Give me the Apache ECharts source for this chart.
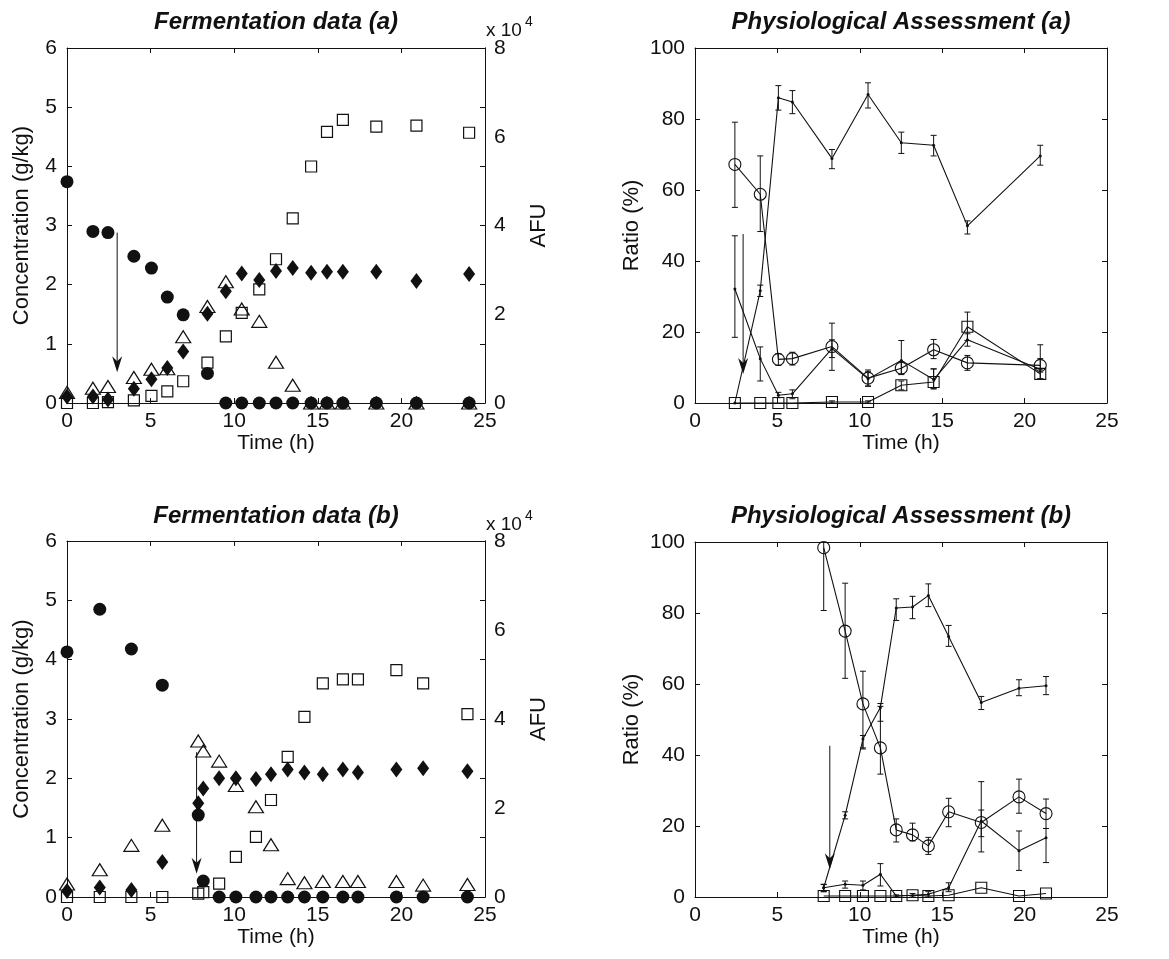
<!DOCTYPE html>
<html>
<head>
<meta charset="utf-8">
<script src="https://cdn.jsdelivr.net/npm/echarts@6/dist/echarts.min.js"></script>
<style>
  html, body { margin: 0; padding: 0; background: #fff; }
  #chart { width: 1169px; height: 959px; }
</style>
</head>
<body>
<div id="chart"></div>
<script type="text/javascript">

// ---- Fermentation data (a)
var timeFa = [0, 1.55, 2.45, 4.0, 5.05, 6.0, 6.95, 8.4, 9.5, 10.45, 11.5, 12.5, 13.5, 14.6, 15.55, 16.5, 18.5, 20.9, 24.05];
var circleFa = [3.74, 2.90, 2.88, 2.48, 2.28, 1.79, 1.49, 0.50, 0, 0, 0, 0, 0, 0, 0, 0, 0, 0, 0];
var diamondFa = [0.11, 0.11, 0.06, 0.24, 0.40, 0.59, 0.87, 1.51, 1.89, 2.19, 2.08, 2.23, 2.28, 2.20, 2.22, 2.22, 2.22, 2.06, 2.18];
var triangleFa = [0.18, 0.25, 0.28, 0.43, 0.57, 0.58, 1.12, 1.63, 2.05, 1.59, 1.38, 0.69, 0.30, 0, 0, 0, 0, 0, 0];
var afuFa = [0, 0, 0.02, 0.06, 0.16, 0.26, 0.49, 0.91, 1.50, 2.03, 2.56, 3.24, 4.16, 5.33, 6.11, 6.38, 6.23, 6.25, 6.09]; // x10^4
var arrowFa = [3.0, 2.88, 0.52];

// ---- Fermentation data (b)
var timeFb = [0, 1.96, 3.85, 5.7, 7.85, 8.15, 9.1, 10.1, 11.3, 12.2, 13.2, 14.2, 15.3, 16.5, 17.4, 19.7, 21.3, 23.95];
var circleFb = [4.13, 4.85, 4.18, 3.57, 1.38, 0.27, 0, 0, 0, 0, 0, 0, 0, 0, 0, 0, 0, 0];
var diamondFb = [0.10, 0.16, 0.12, 0.59, 1.58, 1.83, 2.0, 2.0, 1.99, 2.07, 2.15, 2.10, 2.07, 2.15, 2.10, 2.15, 2.17, 2.12];
var triangleFb = [0.22, 0.46, 0.87, 1.21, 2.63, 2.46, 2.29, 1.88, 1.52, 0.88, 0.31, 0.24, 0.26, 0.26, 0.26, 0.26, 0.20, 0.21];
var afuFb = [0, 0, 0, 0, 0.075, 0.11, 0.30, 0.90, 1.35, 2.18, 3.15, 4.05, 4.80, 4.89, 4.89, 5.10, 4.80, 4.11]; // x10^4
var arrowFb = [7.75, 2.44, 0.39];

// ---- Physiological Assessment (a)
var timePa = [2.42, 3.96, 5.06, 5.91, 8.31, 10.5, 12.52, 14.48, 16.53, 20.95];
var circPa = [67.2, 58.8, 12.3, 12.5, 15.9, 7.0, 9.8, 15.0, 11.3, 10.6];
var circPaLo = [55.1, 48.3, 10.6, 10.7, 9.2, 4.7, 8.0, 12.5, 9.2, 8.7];
var circPaHi = [79.1, 69.6, 13.9, 14.3, 22.5, 9.3, 11.6, 17.9, 13.4, 12.5];
var highPa = [0, 31.6, 86.0, 84.8, 68.9, 86.9, 73.3, 72.6, 49.9, 69.6];
var highPaLo = [0, 30.0, 82.5, 81.5, 66.0, 83.1, 70.3, 69.6, 47.6, 67.0];
var highPaHi = [0, 33.2, 89.4, 88.0, 71.4, 90.2, 76.3, 75.4, 51.3, 72.6];
var lowPa = [32.1, 12.5, 2.2, 2.6, 15.3, 6.8, 12.0, 6.6, 17.8, 9.5];
var lowPaLo = [18.5, 6.2, 1.5, 1.2, 12.8, 4.8, 8.2, 4.0, 16.0, 6.8];
var lowPaHi = [47.1, 15.8, 3.0, 3.7, 17.8, 8.8, 17.6, 9.6, 19.5, 16.4];
var sqPa = [0, 0, 0, 0, 0.3, 0.3, 5.0, 5.9, 21.5, 8.2];
var sqPaLo = [0, 0, 0, 0, 0, 0, 3.7, 4.0, 17.6, 6.8];
var sqPaHi = [0, 0, 0, 0, 0.6, 0.6, 6.2, 9.6, 25.6, 9.6];
var arrowPa = [2.92, 47.6, 8.2];

// ---- Physiological Assessment (b)
var timePb = [7.81, 9.11, 10.19, 11.25, 12.21, 13.2, 14.16, 15.39, 17.37, 19.66, 21.3];
var circPb = [98.4, 74.9, 54.4, 42.0, 18.9, 17.5, 14.4, 24.0, 21.0, 28.2, 23.5];
var circPbLo = [80.7, 61.6, 41.7, 34.6, 15.5, 15.8, 12.0, 19.8, 17.0, 23.6, 19.3];
var circPbHi = [100, 88.4, 63.6, 53.7, 22.0, 20.8, 16.8, 27.8, 32.5, 33.2, 27.6];
var highPb = [2.6, 23.0, 44.5, 53.4, 81.4, 81.7, 84.9, 73.4, 54.8, 58.8, 59.5];
var highPbLo = [1.5, 22.0, 42.0, 49.5, 77.9, 78.4, 81.8, 70.6, 52.8, 56.7, 57.0];
var highPbHi = [3.5, 24.0, 45.5, 54.5, 84.0, 84.7, 88.2, 76.5, 56.5, 61.2, 62.1];
var lowPb = [2.6, 3.6, 3.3, 6.4, 0.3, 0.5, 0.75, 2.6, 21.4, 13.0, 16.7];
var lowPbLo = [1.5, 2.5, 2.0, 3.1, 0, 0, 0, 1.5, 12.7, 7.5, 9.7];
var lowPbHi = [3.6, 4.5, 4.5, 9.4, 0.6, 1.0, 1.5, 4.0, 24.5, 18.6, 19.3];
var sqPb = [0.3, 0.3, 0.3, 0.3, 0.3, 0.5, 0.3, 0.5, 2.6, 0.3, 1.0];
var arrowPb = [8.18, 42.6, 7.8];

var FONT = 'Liberation Sans';
var INK = '#111';

function zip(xs, ys) {
    return xs.map(function (x, i) { return [x, ys[i]]; });
}
function zip3(xs, lo, hi) {
    var out = [];
    xs.forEach(function (x, i) { if (hi[i] > lo[i]) out.push([x, lo[i], hi[i]]); });
    return out;
}

function scatter(name, xi, yi, xs, ys, symbol, size, filled, z) {
    return {
        name: name, type: 'scatter', xAxisIndex: xi, yAxisIndex: yi,
        data: zip(xs, ys), symbol: symbol, symbolSize: size, z: z, silent: true,
        itemStyle: filled ? { color: INK, opacity: 1 }
                          : { color: 'rgba(0,0,0,0)', borderColor: INK, borderWidth: 1.2, opacity: 1 }
    };
}

function line(name, xi, yi, xs, ys, symbol, size, open) {
    return {
        name: name, type: 'line', xAxisIndex: xi, yAxisIndex: yi,
        data: zip(xs, ys), symbol: symbol, symbolSize: size, showSymbol: true, silent: true, z: 4,
        lineStyle: { color: INK, width: 1.1 },
        itemStyle: open ? { color: 'rgba(0,0,0,0)', borderColor: INK, borderWidth: 1.1 } : { color: INK }
    };
}

function errorBars(xi, yi, xs, lo, hi) {
    return {
        type: 'custom', xAxisIndex: xi, yAxisIndex: yi, silent: true, z: 3,
        data: zip3(xs, lo, hi),
        encode: { x: 0, y: [1, 2] },
        renderItem: function (params, api) {
            var x = api.value(0);
            var a = api.coord([x, api.value(1)]);
            var b = api.coord([x, api.value(2)]);
            var w = 3;
            var st = { stroke: INK, lineWidth: 1 };
            return {
                type: 'group', children: [
                    { type: 'line', shape: { x1: a[0], y1: a[1], x2: b[0], y2: b[1] }, style: st },
                    { type: 'line', shape: { x1: a[0] - w, y1: a[1], x2: a[0] + w, y2: a[1] }, style: st },
                    { type: 'line', shape: { x1: b[0] - w, y1: b[1], x2: b[0] + w, y2: b[1] }, style: st }
                ]
            };
        }
    };
}

function arrow(xi, yi, arr) {
    return {
        type: 'custom', xAxisIndex: xi, yAxisIndex: yi, silent: true, z: 6,
        data: [arr],
        encode: { x: 0, y: [1, 2] },
        renderItem: function (params, api) {
            var x = api.value(0);
            var p = api.coord([x, api.value(1)]);
            var q = api.coord([x, api.value(2)]);
            return {
                type: 'group', children: [
                    { type: 'line', shape: { x1: p[0], y1: p[1], x2: q[0], y2: q[1] - 8 }, style: { stroke: INK, lineWidth: 1 } },
                    { type: 'polygon', shape: { points: [[q[0], q[1]], [q[0] - 5, q[1] - 16], [q[0], q[1] - 11], [q[0] + 5, q[1] - 16]] },
                      style: { fill: INK } }
                ]
            };
        }
    };
}

var tickLabel = { color: INK, fontFamily: FONT, fontSize: 21 };
var xNameText = { color: INK, fontFamily: FONT, fontSize: 21 };
var yNameText = { color: INK, fontFamily: FONT, fontSize: 22 };
var axisLine = { show: true, onZero: false, lineStyle: { color: INK, width: 1 } };
var tick = { show: true, inside: true, length: 5, lineStyle: { color: INK } };

function xAxes(gi) {
    return [{
        gridIndex: gi, type: 'value', min: 0, max: 25, interval: 5, position: 'bottom',
        axisLine: axisLine, axisTick: tick,
        axisLabel: Object.assign({ margin: 8 }, tickLabel), splitLine: { show: false },
        name: 'Time (h)', nameLocation: 'middle', nameGap: 26, nameTextStyle: xNameText
    }, {
        gridIndex: gi, type: 'value', min: 0, max: 25, interval: 5, position: 'top',
        axisLine: axisLine, axisTick: tick,
        axisLabel: { show: false }, splitLine: { show: false }
    }];
}

function yAxis(gi, pos, max, interval, labels, name, gap) {
    var ax = {
        gridIndex: gi, type: 'value', min: 0, max: max, interval: interval, position: pos,
        axisLine: axisLine, axisTick: tick,
        axisLabel: labels ? Object.assign({ margin: 10 }, tickLabel) : { show: false },
        splitLine: { show: false }
    };
    if (name) {
        ax.name = name; ax.nameLocation = 'middle'; ax.nameGap = gap; ax.nameTextStyle = yNameText;
    }
    return ax;
}

var grids = [
    { left: 67, top: 48, width: 418, height: 355 },
    { left: 695, top: 48, width: 412, height: 355 },
    { left: 67, top: 541, width: 418, height: 356 },
    { left: 695, top: 542, width: 412, height: 355 }
];

var xAxis = [].concat(xAxes(0), xAxes(1), xAxes(2), xAxes(3));

function afuAxis(gi) {
    var ax = yAxis(gi, 'right', 8, 2, true, 'AFU', 43);
    ax.axisTick = { show: false };
    ax.axisLabel.margin = 9;
    return ax;
}

var yAxisList = [
    yAxis(0, 'left', 6, 1, true, 'Concentration (g/kg)', 34),   // 0
    afuAxis(0),                                                    // 1
    yAxis(0, 'right', 6, 1, false),                                // 2
    yAxis(1, 'left', 100, 20, true, 'Ratio (%)', 52),              // 3
    yAxis(1, 'right', 100, 20, false),                             // 4
    yAxis(2, 'left', 6, 1, true, 'Concentration (g/kg)', 34),   // 5
    afuAxis(2),                                                    // 6
    yAxis(2, 'right', 6, 1, false),                                // 7
    yAxis(3, 'left', 100, 20, true, 'Ratio (%)', 52),              // 8
    yAxis(3, 'right', 100, 20, false)                              // 9
];

var series = [
    // Fermentation (a)
    scatter('AFU a', 0, 1, timeFa, afuFa, 'rect', 11, false, 2),
    scatter('triangle a', 0, 0, timeFa, triangleFa, 'triangle', [15, 12], false, 3),
    scatter('diamond a', 0, 0, timeFa, diamondFa, 'diamond', [12, 16], true, 4),
    scatter('circle a', 0, 0, timeFa, circleFa, 'circle', 13, true, 5),
    arrow(0, 0, arrowFa),
    // Fermentation (b)
    scatter('AFU b', 4, 6, timeFb, afuFb, 'rect', 11, false, 2),
    scatter('triangle b', 4, 5, timeFb, triangleFb, 'triangle', [15, 12], false, 3),
    scatter('diamond b', 4, 5, timeFb, diamondFb, 'diamond', [12, 16], true, 4),
    scatter('circle b', 4, 5, timeFb, circleFb, 'circle', 13, true, 5),
    arrow(4, 5, arrowFb),
    // Physiological (a)
    errorBars(2, 3, timePa, circPaLo, circPaHi),
    errorBars(2, 3, timePa, highPaLo, highPaHi),
    errorBars(2, 3, timePa, lowPaLo, lowPaHi),
    errorBars(2, 3, timePa, sqPaLo, sqPaHi),
    line('circle pa', 2, 3, timePa, circPa, 'circle', 12, true),
    line('high pa', 2, 3, timePa, highPa, 'circle', 3, false),
    line('low pa', 2, 3, timePa, lowPa, 'circle', 3, false),
    line('square pa', 2, 3, timePa, sqPa, 'rect', 11, true),
    arrow(2, 3, arrowPa),
    // Physiological (b)
    errorBars(6, 8, timePb, circPbLo, circPbHi),
    errorBars(6, 8, timePb, highPbLo, highPbHi),
    errorBars(6, 8, timePb, lowPbLo, lowPbHi),
    line('circle pb', 6, 8, timePb, circPb, 'circle', 12, true),
    line('high pb', 6, 8, timePb, highPb, 'circle', 3, false),
    line('low pb', 6, 8, timePb, lowPb, 'circle', 3, false),
    line('square pb', 6, 8, timePb, sqPb, 'rect', 11, true),
    arrow(6, 8, arrowPb)
];

function title(text, x, y) {
    return { type: 'text', x: x, y: y, silent: true,
        style: { text: text, fill: INK, align: 'center', verticalAlign: 'middle',
                 font: 'italic bold 24px "Liberation Sans"' } };
}
function exponent(x, y) {
    return [
        { type: 'text', x: x, y: y, silent: true,
          style: { text: 'x 10', fill: INK, align: 'left', verticalAlign: 'middle', font: '19px "Liberation Sans"' } },
        { type: 'text', x: x + 39, y: y - 9, silent: true,
          style: { text: '4', fill: INK, align: 'left', verticalAlign: 'middle', font: '14px "Liberation Sans"' } }
    ];
}

var option = {
    backgroundColor: '#fff',
    animation: false,
    grid: grids,
    xAxis: xAxis,
    yAxis: yAxisList,
    series: series,
    graphic: [].concat(
        [title('Fermentation data (a)', 276, 22),
         title('Physiological Assessment (a)', 901, 22),
         title('Fermentation data (b)', 276, 516),
         title('Physiological Assessment (b)', 901, 516)],
        exponent(486, 31),
        exponent(486, 525)
    )
};

var chart = echarts.init(document.getElementById('chart'));
chart.setOption(option);

</script>
</body>
</html>
